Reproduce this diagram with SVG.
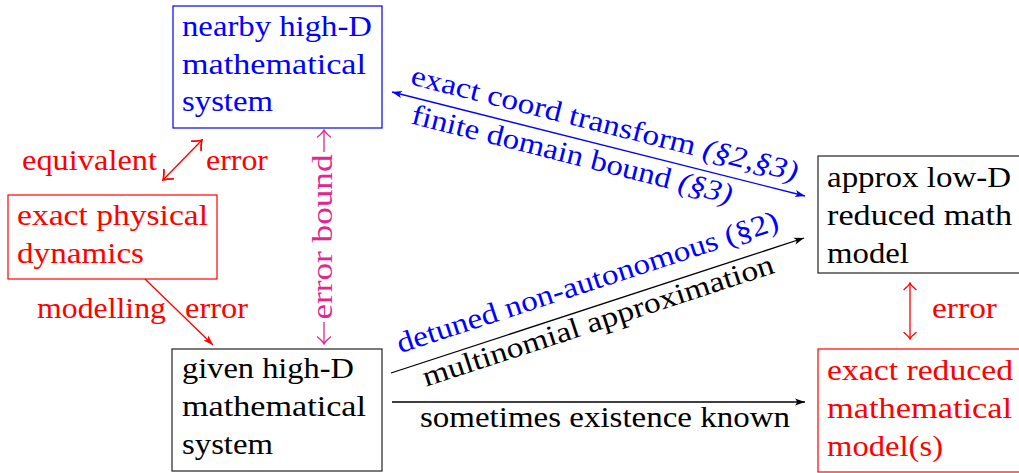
<svg xmlns="http://www.w3.org/2000/svg" width="1019" height="473" viewBox="0 0 1019 473" font-family="Liberation Serif, Times New Roman, serif" font-size="29">
<style>
.blue{fill:#0000ff}.red{fill:#ff0000}.blk{fill:#000000}.mag{fill:#e5258e}
.box{fill:#ffffff;stroke-width:1.2}
.ln{fill:none;stroke-width:1.3}
</style>
<defs>
<marker id="stB" viewBox="-11 -5 12 10" refX="0" refY="0" markerWidth="12" markerHeight="10" markerUnits="userSpaceOnUse" orient="auto-start-reverse"><path d="M0,0 L-10,-3.6 L-7.5,0 L-10,3.6 Z" fill="#0000ff"/></marker>
<marker id="stK" viewBox="-11 -5 12 10" refX="0" refY="0" markerWidth="12" markerHeight="10" markerUnits="userSpaceOnUse" orient="auto-start-reverse"><path d="M0,0 L-10,-3.6 L-7.5,0 L-10,3.6 Z" fill="#000000"/></marker>
<marker id="stR" viewBox="-11 -5 12 10" refX="0" refY="0" markerWidth="12" markerHeight="10" markerUnits="userSpaceOnUse" orient="auto-start-reverse"><path d="M0,0 L-10,-3.6 L-7.5,0 L-10,3.6 Z" fill="#ff0000"/></marker>
<marker id="toM" viewBox="-9 -8 10 16" refX="0" refY="0" markerWidth="10" markerHeight="16" markerUnits="userSpaceOnUse" orient="auto-start-reverse"><path d="M-7,-6.5 Q-2.5,-1 0,0 Q-2.5,1 -7,6.5" fill="none" stroke="#e5258e" stroke-width="1.3" stroke-linecap="round"/></marker>
<marker id="toR" viewBox="-9 -8 10 16" refX="0" refY="0" markerWidth="10" markerHeight="16" markerUnits="userSpaceOnUse" orient="auto-start-reverse"><path d="M-6.5,-6 Q-2.3,-1 0,0 Q-2.3,1 -6.5,6" fill="none" stroke="#ff0000" stroke-width="1.3" stroke-linecap="round"/></marker>
<marker id="toR2" viewBox="-10 -8 11 16" refX="0" refY="0" markerWidth="11" markerHeight="16" markerUnits="userSpaceOnUse" orient="auto-start-reverse"><path d="M-8,-6.5 Q-2.8,-1.2 0,0 Q-2.8,1.2 -8,6.5" fill="none" stroke="#ff0000" stroke-width="1.8" stroke-linecap="round"/></marker>
</defs>
<rect width="1019" height="473" fill="#ffffff"/>

<g id="nearby">
<rect class="box" x="173" y="6" width="209" height="122" stroke="#0000ff"/>
<text class="blue" x="182" y="36" textLength="190" lengthAdjust="spacingAndGlyphs">nearby high-D</text>
<text class="blue" x="182" y="74" textLength="184" lengthAdjust="spacingAndGlyphs">mathematical</text>
<text class="blue" x="182" y="111" textLength="91" lengthAdjust="spacingAndGlyphs">system</text>
</g>

<g id="physical">
<rect class="box" x="8" y="195" width="209" height="84" stroke="#ff0000"/>
<text class="red" x="17" y="225" textLength="191" lengthAdjust="spacingAndGlyphs">exact physical</text>
<text class="red" x="17" y="263" textLength="127" lengthAdjust="spacingAndGlyphs">dynamics</text>
</g>

<g id="given">
<rect class="box" x="172" y="349" width="210" height="122" stroke="#222222"/>
<text class="blk" x="182" y="378" textLength="172" lengthAdjust="spacingAndGlyphs">given high-D</text>
<text class="blk" x="182" y="416" textLength="184" lengthAdjust="spacingAndGlyphs">mathematical</text>
<text class="blk" x="182" y="454" textLength="91" lengthAdjust="spacingAndGlyphs">system</text>
</g>

<g id="approx">
<rect class="box" x="818" y="156" width="210" height="117" stroke="#222222"/>
<text class="blk" x="827" y="187" textLength="184" lengthAdjust="spacingAndGlyphs">approx low-D</text>
<text class="blk" x="827" y="225" textLength="185" lengthAdjust="spacingAndGlyphs">reduced math</text>
<text class="blk" x="827" y="263" textLength="82" lengthAdjust="spacingAndGlyphs">model</text>
</g>

<g id="exactReduced">
<rect class="box" x="818" y="349" width="210" height="123" stroke="#ff0000"/>
<text class="red" x="827" y="380" textLength="186" lengthAdjust="spacingAndGlyphs">exact reduced</text>
<text class="red" x="827" y="418" textLength="185" lengthAdjust="spacingAndGlyphs">mathematical</text>
<text class="red" x="827" y="456" textLength="116" lengthAdjust="spacingAndGlyphs">model(s)</text>
</g>

<g id="connectors">
<line class="ln" x1="163" y1="180" x2="202" y2="140" stroke="#ff0000" stroke-width="2" marker-start="url(#toR2)" marker-end="url(#toR2)"/>
<text class="red" x="22" y="170" textLength="135" lengthAdjust="spacingAndGlyphs">equivalent</text>
<text class="red" x="206" y="170" textLength="62" lengthAdjust="spacingAndGlyphs">error</text>

<line class="ln" x1="145" y1="279" x2="213" y2="345" stroke="#ff0000" stroke-width="1.1" marker-end="url(#stR)"/>
<text class="red" x="37" y="318" textLength="129" lengthAdjust="spacingAndGlyphs">modelling</text>
<text class="red" x="185" y="318" textLength="63" lengthAdjust="spacingAndGlyphs">error</text>

<path class="ln" d="M324,130 V152 M324,322 V344" stroke="#e5258e" marker-start="url(#toM)" marker-end="url(#toM)"/>
<text class="mag" transform="translate(332,237) rotate(-90)" x="0" y="0" text-anchor="middle" textLength="165" lengthAdjust="spacingAndGlyphs">error bound</text>

<line class="ln" x1="392" y1="92" x2="805" y2="196" stroke="#0000ff" marker-start="url(#stB)" marker-end="url(#stB)"/>
<g transform="translate(392,92) rotate(14.134)">
<text class="blue" x="15" y="-12" textLength="398" lengthAdjust="spacingAndGlyphs">exact coord transform <tspan font-style="italic">(§2,§3)</tspan></text>
<text class="blue" x="25" y="26" textLength="330" lengthAdjust="spacingAndGlyphs">finite domain bound <tspan font-style="italic">(§3)</tspan></text>
</g>

<line class="ln" x1="391" y1="373" x2="804" y2="238" stroke="#000000" marker-end="url(#stK)"/>
<g transform="translate(391,373) rotate(-18.10)">
<text class="blue" x="15" y="-16" textLength="400" lengthAdjust="spacingAndGlyphs">detuned non-autonomous (§2)</text>
<text class="blk" x="29" y="24" textLength="368" lengthAdjust="spacingAndGlyphs">multinomial approximation</text>
</g>

<line class="ln" x1="392" y1="402" x2="805" y2="402" stroke="#000000" marker-end="url(#stK)"/>
<text class="blk" x="420" y="427" textLength="370" lengthAdjust="spacingAndGlyphs">sometimes existence known</text>

<line class="ln" x1="910" y1="283" x2="910" y2="339" stroke="#ff0000" stroke-width="1.2" marker-start="url(#toR)" marker-end="url(#toR)"/>
<text class="red" x="932" y="318" textLength="65" lengthAdjust="spacingAndGlyphs">error</text>
</g>
</svg>
